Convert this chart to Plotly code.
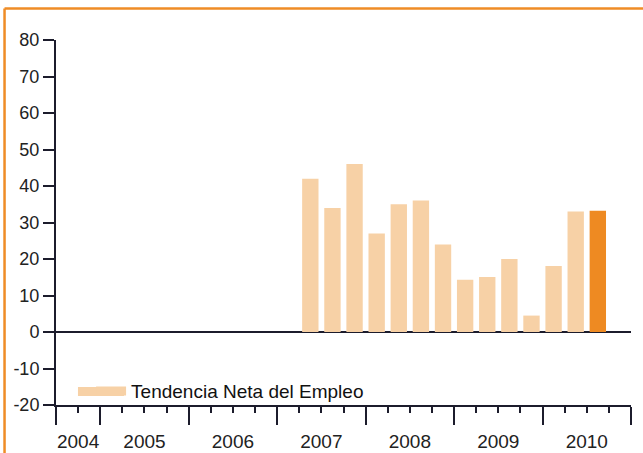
import plotly.graph_objects as go

# ---- data ----
years = ["2004", "2005", "2006", "2007", "2008", "2009", "2010"]
# quarters shown per year on the axis (2004 starts at Q3)
quarters_per_year = [2, 4, 4, 4, 4, 4, 4]
bar_quarters = ["2007-T2", "2007-T3", "2007-T4", "2008-T1", "2008-T2", "2008-T3",
                "2008-T4", "2009-T1", "2009-T2", "2009-T3", "2009-T4", "2010-T1",
                "2010-T2", "2010-T3"]
values = [42, 34, 46, 27, 35, 36, 24, 14.3, 15.1, 20, 4.5, 18.1, 33, 33.2]
series_name = "Tendencia Neta del Empleo"
y_ticks = [-20, -10, 0, 10, 20, 30, 40, 50, 60, 70, 80]
y_tick_text = ["-20", "-10", "0", "10", "20", "30", "40", "50", "60", "70", "80"]

LIGHT = "#F7D1A6"
DARK = "#EE8A22"
AXIS = "#1c1c2c"
TEXT = "#222222"
FRAME = "#EF8C26"
FONT = "Liberation Sans, Arial, Helvetica, sans-serif"

# ---- quarter index mapping ----
year_start = {}
pos = 0
for yv, nq in zip(years, quarters_per_year):
    year_start[yv] = pos
    pos += nq
total_q = pos
first_q = {yv: (4 - nq + 1) for yv, nq in zip(years, quarters_per_year)}


def q_center(label):
    yv, q = label.split("-T")
    return year_start[yv] + (int(q) - first_q[yv]) + 0.5


bar_x = [q_center(q) for q in bar_quarters]
colors = [LIGHT] * (len(values) - 1) + [DARK]
year_bounds = [year_start[y] for y in years] + [total_q]
year_centers = [year_start[y] + nq / 2 for y, nq in zip(years, quarters_per_year)]

fig = go.Figure()
fig.add_trace(go.Bar(x=bar_x, y=values, width=0.74, marker=dict(color=colors, line=dict(width=0)),
                     name=series_name, showlegend=False))
# legend entry
fig.add_trace(go.Scatter(x=[None], y=[None], mode="lines", name=series_name,
                         line=dict(color=LIGHT, width=9), showlegend=True))
# year label axis carrier
fig.add_trace(go.Scatter(x=[None], y=[None], xaxis="x2", showlegend=False, hoverinfo="skip"))

fig.update_layout(
    template="none",
    width=643, height=453,
    margin=dict(l=56, r=12, t=40, b=48, autoexpand=False),
    paper_bgcolor="white", plot_bgcolor="white",
    font=dict(family=FONT, color=TEXT, size=18),
    showlegend=True,
    legend=dict(x=0.061, xanchor="left", y=0.038, yanchor="middle",
                bgcolor="rgba(0,0,0,0)", borderwidth=0,
                font=dict(size=19, color="#111111")),
    xaxis=dict(range=[0, total_q], showgrid=False, zeroline=False, automargin=False,
               showline=True, linecolor=AXIS, linewidth=2,
               tickmode="array", tickvals=year_bounds, showticklabels=False,
               ticks="outside", ticklen=18, tickwidth=2, tickcolor=AXIS,
               minor=dict(dtick=1, tick0=0, ticks="outside", ticklen=6,
                          tickwidth=2, tickcolor=AXIS, showgrid=False)),
    xaxis2=dict(range=[0, total_q], overlaying="x", anchor="y", side="bottom",
                showgrid=False, zeroline=False, showline=False, automargin=False,
                tickmode="array", tickvals=year_centers, ticktext=years,
                ticks="outside", ticklen=19, tickcolor="rgba(0,0,0,0)",
                tickfont=dict(size=19, color=TEXT)),
    yaxis=dict(range=[-20, 80], tickmode="array", tickvals=y_ticks, ticktext=y_tick_text,
               showgrid=False, showline=True, linecolor=AXIS, linewidth=2, automargin=False,
               ticks="outside", ticklen=11, tickwidth=2, tickcolor=AXIS,
               zeroline=True, zerolinecolor=AXIS, zerolinewidth=2,
               tickfont=dict(size=18, color=TEXT)),
    shapes=[
        # outer orange frame (top and left edges)
        dict(type="line", xref="paper", yref="paper", x0=-0.0895, x1=1.1,
             y0=1.0863, y1=1.0863, line=dict(color=FRAME, width=2.5)),
        dict(type="line", xref="paper", yref="paper", x0=-0.0895, x1=-0.0895,
             y0=-0.2, y1=1.0863, line=dict(color=FRAME, width=2.5)),
        # wider legend swatch
        dict(type="rect", xref="paper", yref="paper", x0=0.0382, x1=0.1182,
             y0=0.0247, y1=0.0493, fillcolor=LIGHT, line=dict(width=0)),
    ],
)

fig.write_html("out.html",
               config={"displayModeBar": False},
               post_script="document.body.style.margin='0';document.body.style.padding='0';")
